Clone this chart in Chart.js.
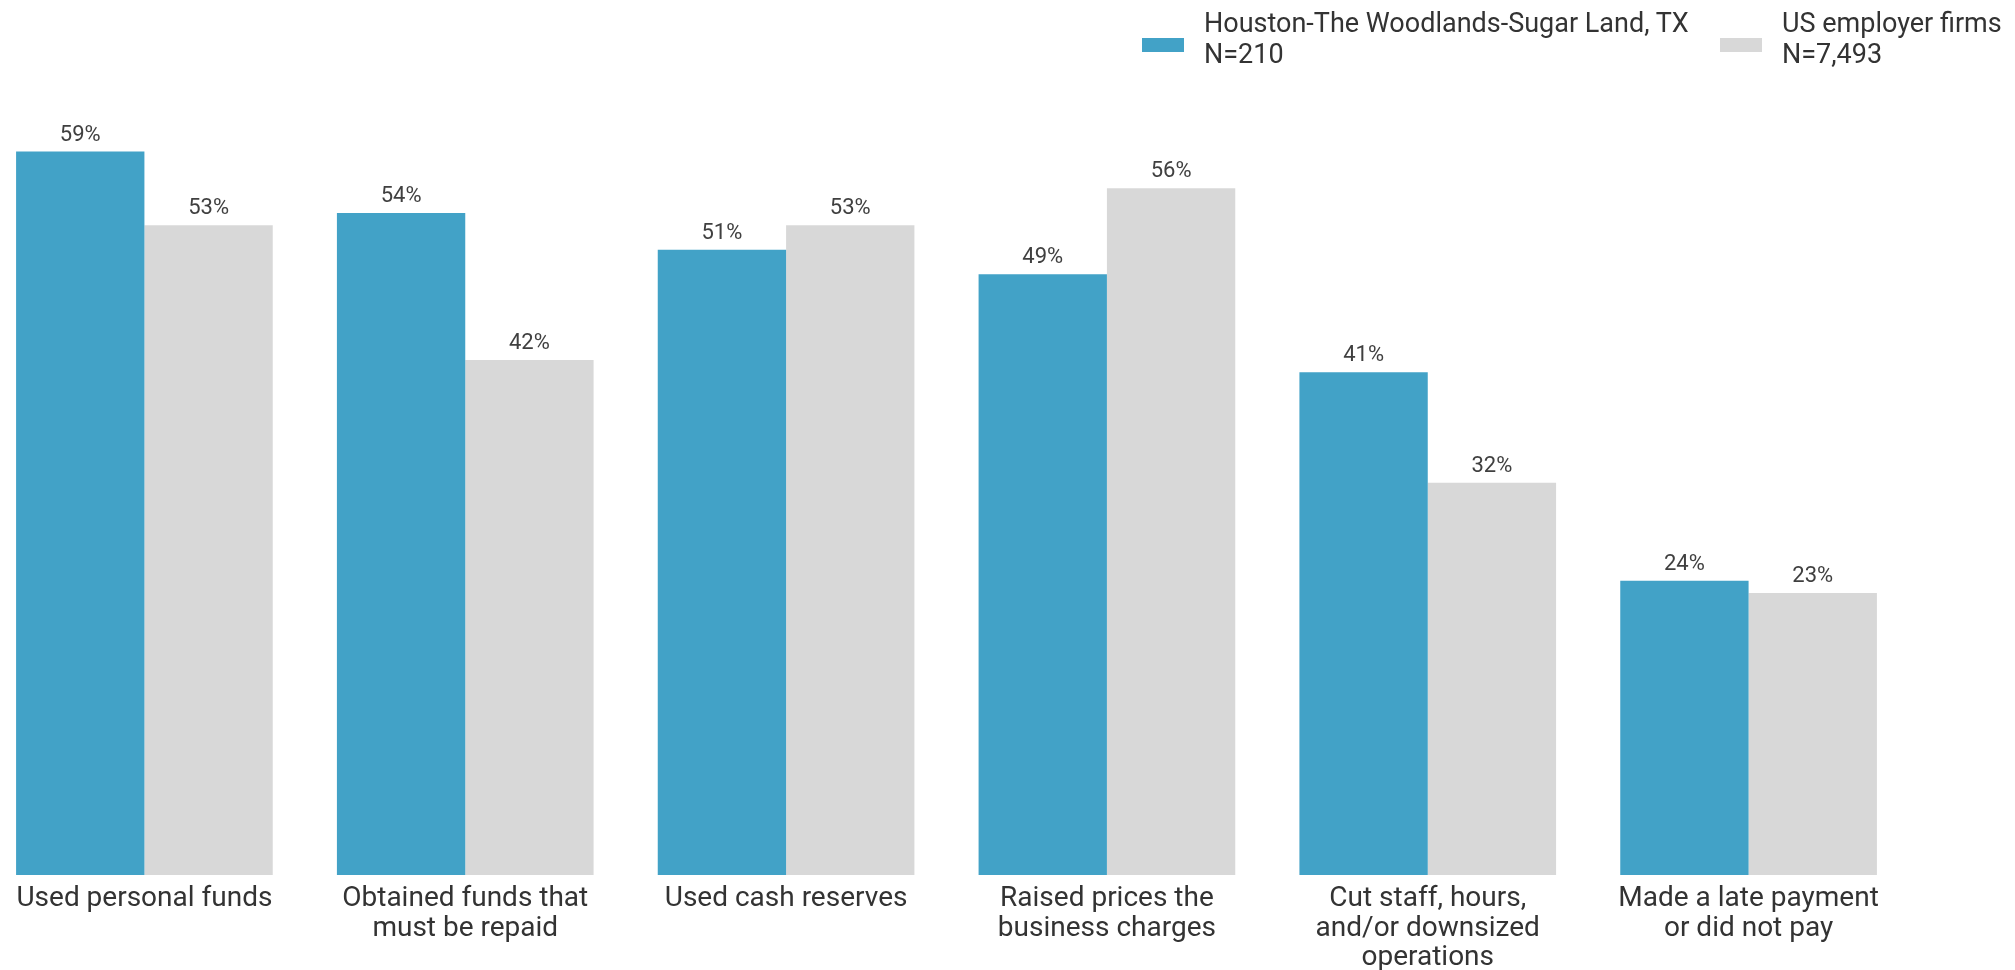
<!DOCTYPE html>
<html>
<head>
<meta charset="utf-8">
<script src="https://cdn.jsdelivr.net/npm/chart.js@4/dist/chart.umd.min.js"></script>
<style>
  html, body { margin: 0; padding: 0; background: #ffffff; overflow: hidden; }
  body { width: 2015px; height: 970px; position: relative; font-family: Roboto, "Noto Sans", sans-serif; }
  #wrap { position: absolute; left: -16px; top: 0; width: 1925px; height: 970px; }
  .lg-box { position: absolute; width: 42px; height: 14px; }
  .lg-text { position: absolute; font-family: Roboto, sans-serif; font-size: 27px; line-height: 31px; color: #333333; white-space: nowrap; }
</style>
</head>
<body>
<div id="wrap"><canvas id="c" width="1925" height="970"></canvas></div>
<div class="lg-box" style="left:1142px; top:38px; background:#42A2C7;"></div>
<div class="lg-text" style="left:1204px; top:8px;">Houston-The Woodlands-Sugar Land, TX<br>N=210</div>
<div class="lg-box" style="left:1720px; top:38px; background:#D8D8D8;"></div>
<div class="lg-text" style="left:1782px; top:8px;">US employer firms<br>N=7,493</div>
<script>
const categories = [
  ["Used personal funds"],
  ["Obtained funds that", "must be repaid"],
  ["Used cash reserves"],
  ["Raised prices the", "business charges"],
  ["Cut staff, hours,", "and/or downsized", "operations"],
  ["Made a late payment", "or did not pay"]
];
const seriesNames = ["Houston-The Woodlands-Sugar Land, TX", "US employer firms"];
const houstonValues = [59, 54, 51, 49, 41, 24];
const usValues = [53, 42, 53, 56, 32, 23];

const valueLabels = {
  id: 'valueLabels',
  afterDatasetsDraw(chart) {
    const ctx = chart.ctx;
    ctx.save();
    ctx.font = '22px Roboto, sans-serif';
    ctx.fillStyle = '#404040';
    ctx.textAlign = 'center';
    ctx.textBaseline = 'alphabetic';
    chart.data.datasets.forEach((ds, i) => {
      const meta = chart.getDatasetMeta(i);
      meta.data.forEach((el, j) => {
        ctx.fillText(ds.data[j] + '%', el.x, el.y - 11);
      });
    });
    ctx.restore();
  }
};

new Chart(document.getElementById('c'), {
  type: 'bar',
  data: {
    labels: categories,
    datasets: [
      { label: seriesNames[0], data: houstonValues, backgroundColor: '#42A2C7', borderWidth: 0 },
      { label: seriesNames[1], data: usValues, backgroundColor: '#D8D8D8', borderWidth: 0 }
    ]
  },
  options: {
    responsive: false,
    animation: false,
    devicePixelRatio: 1,
    layout: { padding: { top: 78, left: 0, right: 0, bottom: 0 } },
    datasets: { bar: { categoryPercentage: 0.8, barPercentage: 1.0 } },
    plugins: { legend: { display: false }, tooltip: { enabled: false } },
    scales: {
      x: {
        grid: { display: false, drawTicks: false },
        border: { display: false },
        ticks: {
          padding: 9,
          color: '#333333',
          maxRotation: 0,
          autoSkip: false,
          font: { family: 'Roboto, sans-serif', size: 28, lineHeight: 1.06 }
        },
        afterFit(scale) { scale.height = 95; }
      },
      y: {
        display: false,
        min: 0,
        max: 65
      }
    }
  },
  plugins: [valueLabels]
});
</script>
</body>
</html>
